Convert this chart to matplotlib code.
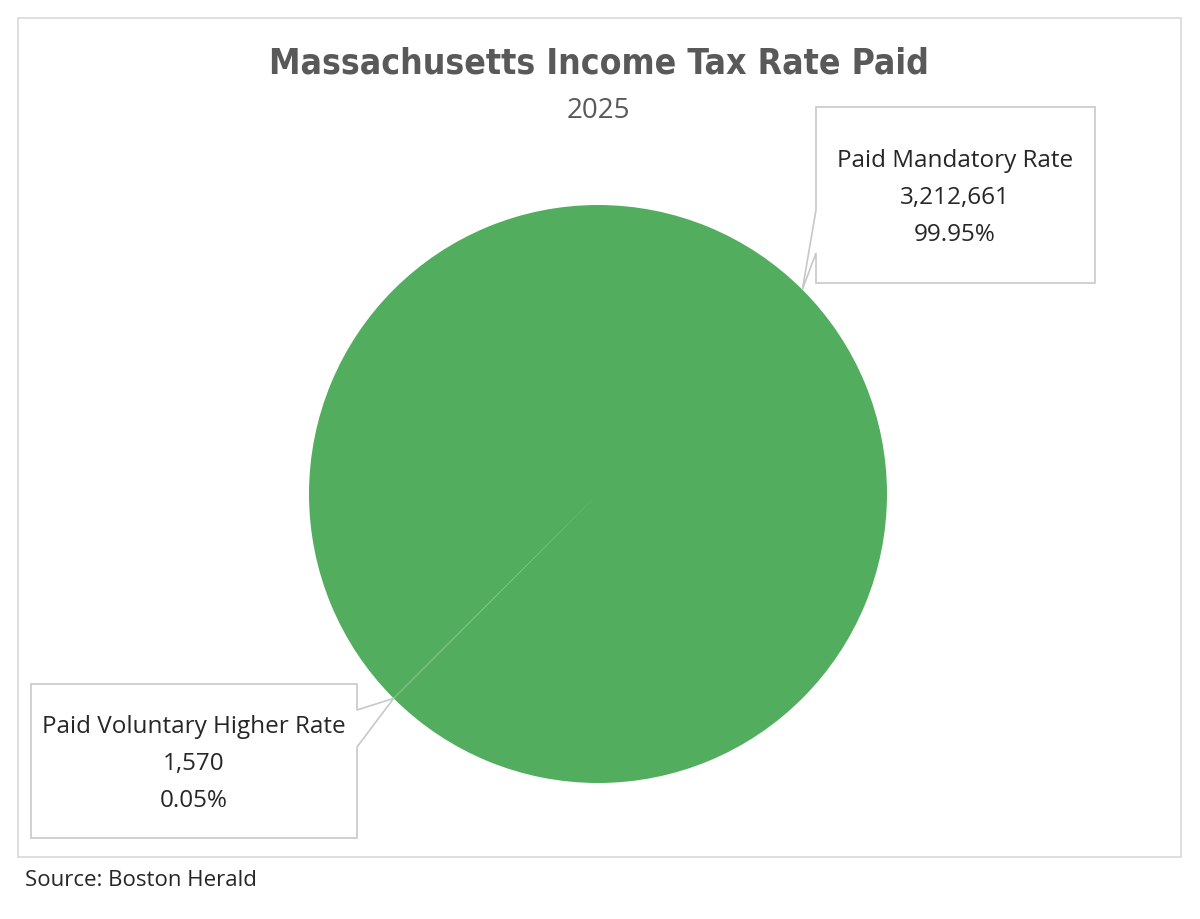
import matplotlib
matplotlib.use("Agg")
import matplotlib.pyplot as plt
from matplotlib.patches import Polygon, Rectangle
import numpy as np

categories = ["Paid Mandatory Rate", "Paid Voluntary Higher Rate"]
values = [3212661, 1570]
colors = ["#52AE5E", "#5BB468"]
title = "Massachusetts Income Tax Rate Paid"
subtitle = "2025"
source = "Source: Boston Herald"

W, H = 1200, 919
fig = plt.figure(figsize=(W / 100, H / 100), dpi=100)
ax = fig.add_axes([0, 0, 1, 1])

def Y(y):
    return H - y

total = sum(values)
frac_small = values[1] / total
# small slice centred at 225 degrees (lower-left)
start = 225 - 360 * (1 - frac_small / 2)
cx, cy, r = 598, Y(494), 289
wedges, _ = ax.pie(values, colors=colors, startangle=start, counterclock=True,
                   center=(cx, cy), radius=r, frame=False,
                   wedgeprops=dict(linewidth=0))
ax.set_xlim(0, W)
ax.set_ylim(0, H)
ax.set_aspect("auto")
ax.axis("off")

# chart border
ax.add_patch(Rectangle((18, Y(857)), 1163, 839, fill=False, ec="#D9D9D9", lw=1.2))

# title
ax.text(599, Y(63), title, ha="center", va="center", fontsize=25.5, fontweight="bold",
        color="#595959", family="DejaVu Sans", fontstretch="condensed")
ax.text(598, Y(111), subtitle, ha="center", va="center", fontsize=20, color="#595959",
        family="Open Sans")

# callout boxes
def callout(left, top, right, bottom, pts, side):
    if side == "left":
        poly = [(left, top), (right, top), (right, bottom), (left, bottom),
                (left, pts[1]), pts[2], (left, pts[0])]
    else:
        poly = [(left, top), (right, top), (right, pts[0]), pts[2], (right, pts[1]),
                (right, bottom), (left, bottom)]
    poly = [(x, Y(y)) for x, y in poly]
    ax.add_patch(Polygon(poly, closed=True, fc="white", ec="#C8C8C8", lw=1.2, zorder=5))

ang = np.deg2rad(start + 360 * (1 - frac_small / 2))
tip_small = (cx + r * np.cos(ang), H - (cy + r * np.sin(ang)))
ang_big = np.deg2rad(45)
tip_big = (cx + r * np.cos(ang_big), H - (cy + r * np.sin(ang_big)))

callout(816, 107, 1095, 283, (210, 253, tip_big), "left")
callout(31, 684, 357, 838, (710, 747, tip_small), "right")

pct = [v / total * 100 for v in values]
lbl_big = f"{categories[0]}\n{values[0]:,}\n{pct[0]:.2f}%"
lbl_small = f"{categories[1]}\n{values[1]:,}\n{pct[1]:.2f}%"
ax.text(955, Y(198), lbl_big, ha="center", va="center", fontsize=17.5, color="#262626",
        family="Open Sans", linespacing=1.72, zorder=6)
ax.text(194, Y(764), lbl_small, ha="center", va="center", fontsize=17.5, color="#262626",
        family="Open Sans", linespacing=1.72, zorder=6)

ax.text(25, Y(880), source, ha="left", va="center", fontsize=16, color="#262626",
        family="Open Sans")

fig.savefig("out.png", dpi=100, facecolor="white")
